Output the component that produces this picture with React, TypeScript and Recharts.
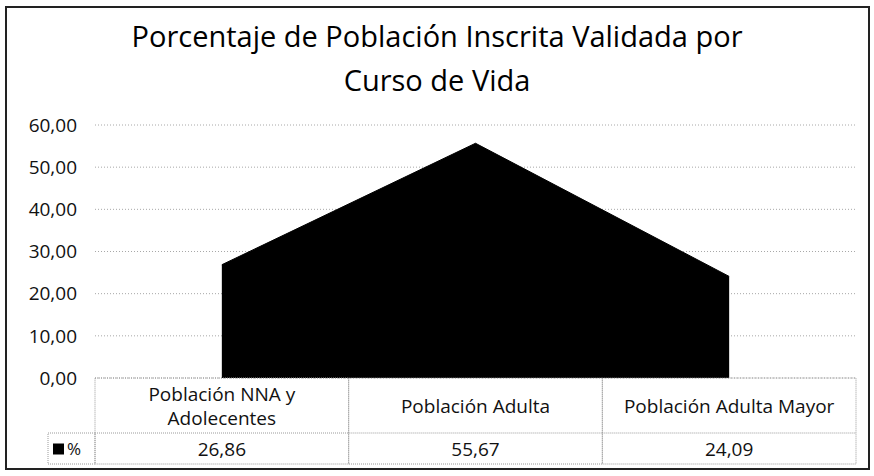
import { AreaChart, Area, XAxis, YAxis, CartesianGrid } from "recharts";

const CATEGORIES = ["Población NNA y\nAdolecentes", "Población Adulta", "Población Adulta Mayor"];
const VALUES = [26.86, 55.67, 24.09];
const Y_TICKS = [0, 10, 20, 30, 40, 50, 60];
const SERIES_NAME = "%";
const TITLE_LINES = ["Porcentaje de Población Inscrita Validada por", "Curso de Vida"];

const W = 874;
const H = 476;
const PLOT_LEFT = 95;
const PLOT_RIGHT = 856;
const PLOT_TOP = 125;
const PLOT_BOTTOM = 378;
const BAND = (PLOT_RIGHT - PLOT_LEFT) / CATEGORIES.length;
const HEADER_H = 55;
const ROW_H = 31;
const FONT = "'Open Sans', 'Noto Sans', sans-serif";

const data = CATEGORIES.map((c, i) => ({ name: c, value: VALUES[i] }));

const fmt = (v: number) => v.toFixed(2).replace(".", ",");

function TableCell(props: any) {
	const { x, y, payload, index } = props;
	const lines = String(payload.value).split("\n");
	const left = x - BAND / 2;
	const lineGap = 24;
	const startY = y + HEADER_H / 2 - ((lines.length - 1) * lineGap) / 2;
	const dot = { stroke: "#9a9a9a", strokeWidth: 1, strokeDasharray: "1 1", fill: "none" };
	return (
		<g>
			<rect x={left} y={y} width={BAND} height={HEADER_H + ROW_H} {...dot} />
			<line x1={left} x2={left + BAND} y1={y + HEADER_H} y2={y + HEADER_H} {...dot} />
			{lines.map((l, i) => (
				<text
					key={i}
					x={x}
					y={startY + i * lineGap}
					textAnchor="middle"
					dominantBaseline="central"
					fontSize={19}
					fontFamily={FONT}
					fill="#111"
				>
					{l}
				</text>
			))}
			<text
				x={x}
				y={y + HEADER_H + ROW_H / 2}
				textAnchor="middle"
				dominantBaseline="central"
				fontSize={19}
				fontFamily={FONT}
				fill="#111"
			>
				{fmt(VALUES[index])}
			</text>
			{index === 0 && (
				<g>
					<rect x={left - 47} y={y + HEADER_H} width={47} height={ROW_H} {...dot} />
					<rect x={left - 42} y={y + HEADER_H + ROW_H / 2 - 5} width={11} height={11} fill="#000" />
					<text
						x={left - 28}
						y={y + HEADER_H + ROW_H / 2}
						dominantBaseline="central"
						fontSize={17}
						fontFamily={FONT}
						fill="#111"
					>
						{SERIES_NAME}
					</text>
				</g>
			)}
		</g>
	);
}

export default function App() {
	return (
		<div
			style={{
				position: "absolute",
				left: 0,
				top: 0,
				width: W,
				height: H,
				background: "#fff",
				fontFamily: FONT,
			}}
		>
			<div
				style={{
					position: "absolute",
					left: 5,
					top: 6,
					width: 865,
					height: 464,
					border: "2px solid #222",
					boxSizing: "border-box",
				}}
			/>
			{TITLE_LINES.map((t, i) => (
				<div
					key={t}
					style={{
						position: "absolute",
						left: 0,
						width: W,
						top: 17 + i * 44,
						textAlign: "center",
						fontSize: 29,
						lineHeight: "38px",
						color: "#000",
					}}
				>
					{t}
				</div>
			))}
			<div style={{ position: "absolute", left: 0, top: 0 }}>
				<AreaChart
					width={W}
					height={H}
					data={data}
					margin={{ top: PLOT_TOP, left: 15, right: W - PLOT_RIGHT, bottom: 0 }}
				>
					<CartesianGrid vertical={false} stroke="#a8a8a8" strokeDasharray="1 2" />
					<XAxis
						dataKey="name"
						axisLine={false}
						tickLine={false}
						tickSize={0}
						tickMargin={0}
						interval={0}
						height={H - PLOT_BOTTOM}
						padding={{ left: BAND / 2, right: BAND / 2 }}
						tick={<TableCell />}
					/>
					<YAxis
						width={PLOT_LEFT - 15}
						domain={[0, 60]}
						ticks={Y_TICKS}
						interval={0}
						axisLine={false}
						tickLine={false}
						tickMargin={12}
						tickFormatter={fmt}
						tick={{ fontSize: 19, fontFamily: FONT, fill: "#111" }}
					/>
					<Area
						type="linear"
						dataKey="value"
						stroke="#000"
						fill="#000"
						fillOpacity={1}
						isAnimationActive={false}
						dot={false}
						activeDot={false}
					/>
				</AreaChart>
			</div>
		</div>
	);
}
